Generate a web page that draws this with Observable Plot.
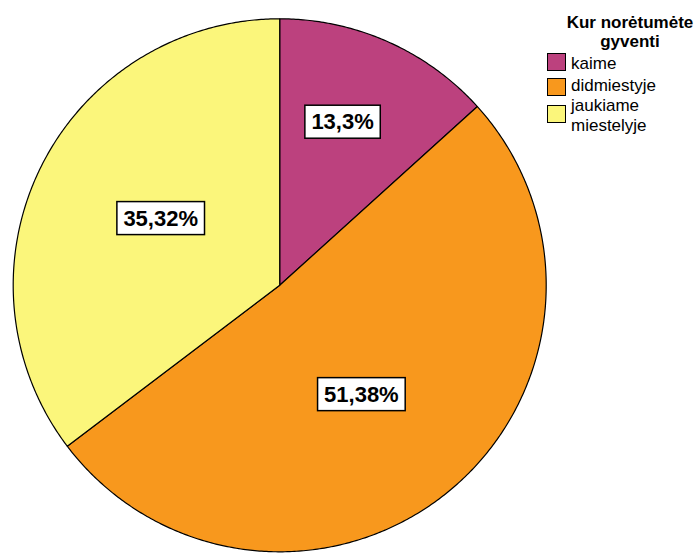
<!DOCTYPE html>
<html>
<head>
<meta charset="utf-8">
<script src="https://cdn.jsdelivr.net/npm/d3@7"></script>
<script src="https://cdn.jsdelivr.net/npm/@observablehq/plot@0.6"></script>
<style>
  html, body { margin: 0; padding: 0; background: #fff; }
  #wrap { position: relative; width: 694px; height: 553px; font-family: Arial, "Liberation Sans", sans-serif; }
  #wrap svg { position: absolute; left: 0; top: 0; }
  .lg { position: absolute; color: #000; white-space: nowrap; }
  .lg-title { font-weight: bold; font-size: 17px; line-height: 19.4px; text-align: center; }
  .lg-item { font-size: 17px; line-height: 20.5px; }
  .sw { position: absolute; box-sizing: border-box; border: 1.5px solid #000; }
</style>
</head>
<body>
<div id="wrap"></div>
<script>
// ---- data ----
const categories = ["kaime", "didmiestyje", "jaukiame miestelyje"];
const percents = [13.3, 51.38, 35.32];
const colors = ["#bc417e", "#f8981d", "#fbf67b"];
const legendTitle = ["Kur norėtumėte", "gyventi"];
const legendLabels = [["kaime"], ["didmiestyje"], ["jaukiame", "miestelyje"]];

// ---- build wedges (angles clockwise from 12 o'clock) ----
const total = d3.sum(percents);
let acc = 0;
const slices = categories.map((c, i) => {
  const a0 = acc / total * 2 * Math.PI;
  acc += percents[i];
  const a1 = acc / total * 2 * Math.PI;
  return {cat: c, value: percents[i], a0, a1};
});
const pts = [];
for (const s of slices) {
  pts.push({cat: s.cat, x: 0, y: 0});
  const n = Math.max(2, Math.ceil((s.a1 - s.a0) / (Math.PI / 360)));
  for (let k = 0; k <= n; k++) {
    const a = s.a0 + (s.a1 - s.a0) * k / n;
    pts.push({cat: s.cat, x: Math.sin(a), y: Math.cos(a)});
  }
  pts.push({cat: s.cat, x: 0, y: 0});
}
const labels = slices.map(s => {
  const small = s.value / total < 0.2;
  const m = (s.a0 + s.a1) / 2 + (small ? -0.05 : 0.05);
  const rf = small ? 0.656 : 0.512;
  return {x: rf * Math.sin(m), y: rf * Math.cos(m), text: String(s.value).replace(".", ",") + "%"};
});

const cx = 279.2, cy = 284.8, R = 266.5;
const chart = Plot.plot({
  width: 694,
  height: 553,
  margin: 0,
  style: {background: "transparent", fontFamily: "Arial, 'Liberation Sans', sans-serif", overflow: "visible"},
  x: {domain: [-1, 1], range: [cx - R, cx + R], axis: null},
  y: {domain: [-1, 1], range: [cy + R, cy - R], axis: null},
  color: {domain: categories, range: colors},
  marks: [
    Plot.line(pts, {x: "x", y: "y", z: "cat", fill: "cat", stroke: "#000", strokeWidth: 1.2, curve: "linear", strokeLinejoin: "round"}),
    Plot.text(labels, {x: "x", y: "y", text: "text", fontSize: 22, fontWeight: "bold", fill: "#000"})
  ]
});
const wrap = document.getElementById("wrap");
wrap.appendChild(chart);

// boxes behind labels
chart.querySelectorAll('g[aria-label="text"] text').forEach(t => {
  const b = t.getBBox();
  const padX = 6.5, padY = 5;
  const r = document.createElementNS("http://www.w3.org/2000/svg", "rect");
  r.setAttribute("x", b.x - padX);
  r.setAttribute("y", b.y - padY + 1);
  r.setAttribute("width", b.width + 2 * padX);
  r.setAttribute("height", b.height + 2 * padY - 2);
  r.setAttribute("fill", "#fff");
  r.setAttribute("stroke", "#000");
  r.setAttribute("stroke-width", "1.5");
  const tr = t.getAttribute("transform");
  if (tr) r.setAttribute("transform", tr);
  t.parentNode.insertBefore(r, t);
});

// ---- legend ----
const title = document.createElement("div");
title.className = "lg lg-title";
title.style.left = "566px"; title.style.top = "13px"; title.style.width = "128px";
title.innerHTML = legendTitle.join("<br>");
wrap.appendChild(title);

const swTops = [53, 77.5, 105];
const txtTops = [53.5, 75.5, 95.5];
legendLabels.forEach((lines, i) => {
  const sw = document.createElement("div");
  sw.className = "sw";
  sw.style.left = "547px"; sw.style.top = swTops[i] + "px";
  sw.style.width = "19px"; sw.style.height = "18px";
  sw.style.background = colors[i];
  wrap.appendChild(sw);
  const tx = document.createElement("div");
  tx.className = "lg lg-item";
  tx.style.left = "571px"; tx.style.top = txtTops[i] + "px";
  tx.innerHTML = lines.join("<br>");
  wrap.appendChild(tx);
});
</script>
</body>
</html>
